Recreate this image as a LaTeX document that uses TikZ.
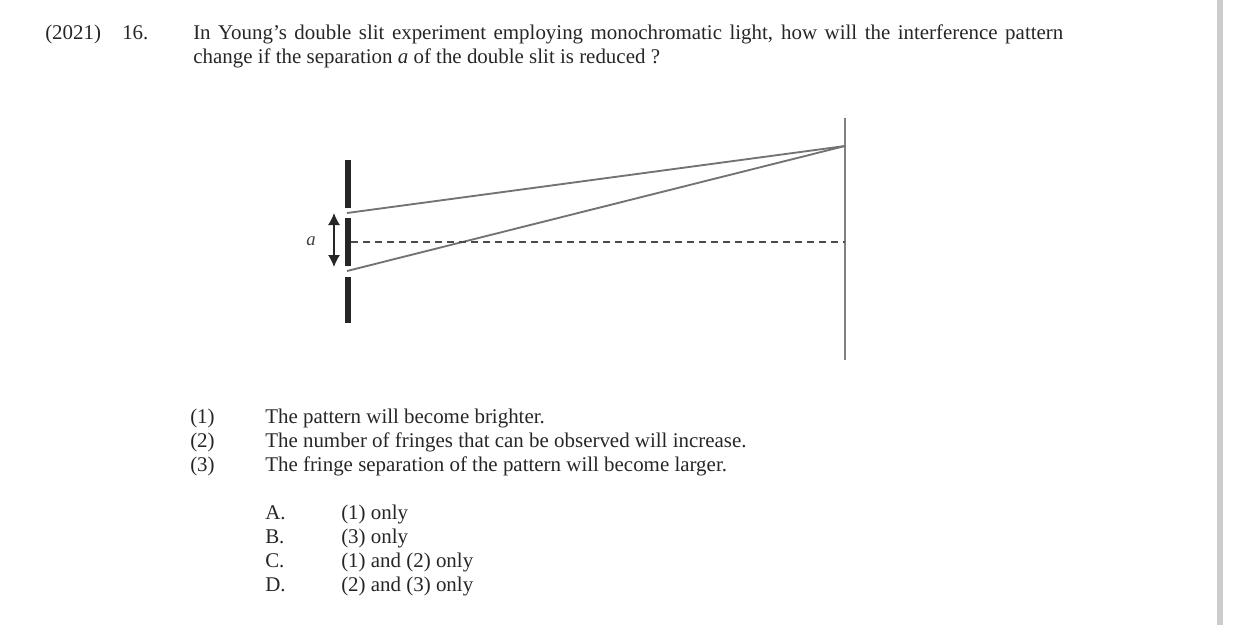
\documentclass[tikz,border=0pt]{standalone}
\usepackage{fontspec}
\setmainfont{Liberation Serif}
\usetikzlibrary{arrows.meta,positioning}

\begin{document}
\begin{tikzpicture}[x=0.75pt,y=-0.75pt,
    txt/.style={anchor=base west, inner sep=0pt, font=\fontsize{15.7}{18}\selectfont, text=black!85},
    bar/.style={rectangle, fill=black!85, inner sep=0pt, minimum width=4.2pt},
    ray/.style={draw=black!55, line width=1.4pt},
    screen/.style={draw=black!50, line width=1.4pt}]
    \useasboundingbox (0,0) rectangle (1240,625);
    \node [rectangle, fill=black!20, inner sep=0pt, minimum width=4.5pt, minimum height=468.75pt] (strip) at (1220,312.5) {};
    \node [txt] (year) at (45,39) {(2021)};
    \node [txt] (num) at (122,39) {16.};
    \node [txt] (q1) at (193,39) {\makebox[652.5pt][s]{In Young's double slit experiment employing monochromatic light, how will the interference pattern}};
    \node [txt] (q2) at (193,63) {change if the separation \textit{a} of the double slit is reduced ?};
    % slits
    \node [bar, minimum height=36pt] (top) at (348,184) {};
    \node [bar, minimum height=36pt] (mid) at (348,242) {};
    \node [bar, minimum height=34.5pt] (bot) at (348,300) {};
    \coordinate (s1) at (347,213);
    \coordinate (s2) at (347,271);
    \coordinate (up) at (334,213);
    \coordinate (dn) at (334,267);
    \node [font=\fontsize{14}{16}\selectfont\itshape, text=black!75, inner sep=0pt] (a) at (311,241) {a};
    % screen
    \coordinate (scrtop) at (845,118);
    \coordinate (scrbot) at (845,360);
    \coordinate (p) at (845,146);
    \coordinate (o) at (845,242);
    \draw [screen] (scrtop) -- (scrbot);
    \draw [ray] (s1) -- (p);
    \draw [ray] (s2) -- (p);
    \draw [black!70, line width=1pt, dash pattern=on 5.5pt off 3.5pt] (mid.east) -- (o);
    \draw [{Latex[length=9pt,width=9pt]}-{Latex[length=9pt,width=9pt]}, black!85, line width=1pt] (up) -- (dn);
    % statements
    \node [txt] (n1) at (190,423) {(1)};
    \node [txt] (n2) at (190,447) {(2)};
    \node [txt] (n3) at (190,471) {(3)};
    \node [txt] (t1) at (265,423) {The pattern will become brighter.};
    \node [txt] (t2) at (265,447) {The number of fringes that can be observed will increase.};
    \node [txt] (t3) at (265,471) {The fringe separation of the pattern will become larger.};
    % options
    \node [txt] (la) at (265,519) {A.};
    \node [txt] (lb) at (265,543) {B.};
    \node [txt] (lc) at (265,567) {C.};
    \node [txt] (ld) at (265,591) {D.};
    \node [txt] (oa) at (341,519) {(1) only};
    \node [txt] (ob) at (341,543) {(3) only};
    \node [txt] (oc) at (341,567) {(1) and (2) only};
    \node [txt] (od) at (341,591) {(2) and (3) only};
\end{tikzpicture}
\end{document}
